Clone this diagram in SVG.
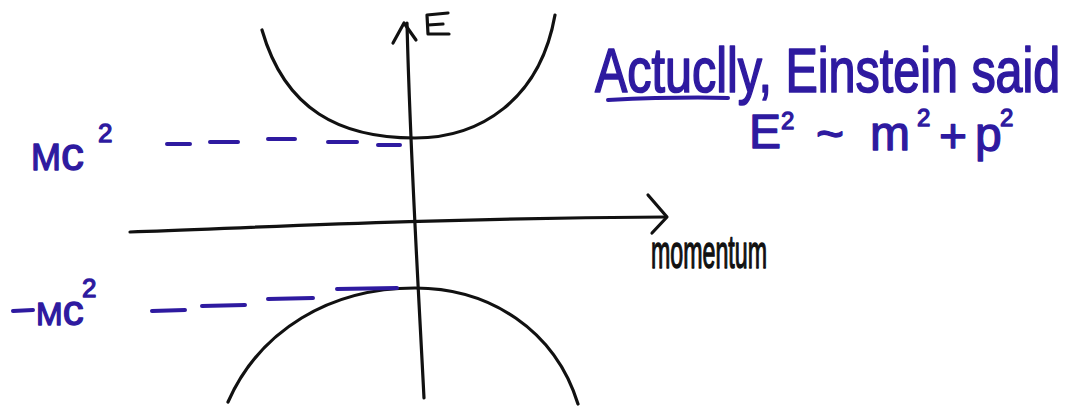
<svg xmlns="http://www.w3.org/2000/svg" width="1078" height="406" viewBox="0 0 1078 406">
<style>
.ink{fill:none;stroke:#111;stroke-width:3.2;stroke-linecap:round;stroke-linejoin:round}
.blue{fill:none;stroke:#2e1aa0;stroke-width:4;stroke-linecap:round;stroke-linejoin:round}
.bt{fill:#2e1aa0;stroke:#2e1aa0;stroke-width:1.3;stroke-linejoin:round;font-family:"Liberation Sans",Arial,sans-serif}
.kt{fill:#111;stroke:#111;stroke-width:1.4;stroke-linejoin:round;font-family:"Liberation Sans",Arial,sans-serif}
</style>
<rect width="1078" height="406" fill="#fff"/>
<g id="curves">
<path class="ink" d="M262,30 C285,110 340,138 415,138 C480,138 540,100 555,15"/>
<path class="ink" d="M228,402 C260,330 330,288 415,288 C490,288 555,330 578,404"/>
</g>
<g id="axes">
<path class="ink" d="M424,398 C418,280 410,150 407,23"/>
<path class="ink" d="M393,43 L404,23 L416,40"/>
<path class="ink" d="M130,232 C250,228 400,219 665,217"/>
<path class="ink" d="M648,195 L667,217 L652,233"/>
<path class="ink" d="M427,15 L448,13 M427,15 L428,34 L449,34 M428,25 L443,24"/>
</g>
<g id="dashes">
<path class="blue" d="M167,144 L190,144 M210,142 L238,142 M268,139 L295,139 M328,142 L357,142 M378,145 L400,145"/>
<path class="blue" d="M152,311 L185,310 M202,306 L245,305 M268,299 L313,298 M337,289 L397,288"/>
</g>
<g id="labels">
<text class="bt" x="31" y="170" font-size="36">M<tspan font-size="46">c</tspan></text>
<text class="bt" x="98" y="142" font-size="26">2</text>
<path class="blue" d="M13,311 L33,310"/>
<text class="bt" x="36" y="325" font-size="32">M<tspan font-size="42">c</tspan></text>
<text class="bt" x="82" y="297" font-size="26">2</text>
<text class="kt" x="651" y="268" font-size="46" textLength="116" lengthAdjust="spacingAndGlyphs">momentum</text>
</g>
<g id="note">
<text class="bt" transform="translate(595,92) scale(1,1.3)" font-size="48.5">Actuclly, Einstein said</text>
<path class="blue" d="M608,100 C650,98 690,97 728,98"/>
<text class="bt" x="749" y="148" font-size="48">E</text>
<text class="bt" x="781" y="129" font-size="24">2</text>
<text class="bt" x="816" y="150" font-size="48">~</text>
<text class="bt" x="870" y="150" font-size="48">m</text>
<text class="bt" x="917" y="126" font-size="24">2</text>
<text class="bt" x="939" y="152" font-size="48">+</text>
<text class="bt" x="975" y="151" font-size="48">p</text>
<text class="bt" x="1000" y="126" font-size="24">2</text>
</g>
</svg>
